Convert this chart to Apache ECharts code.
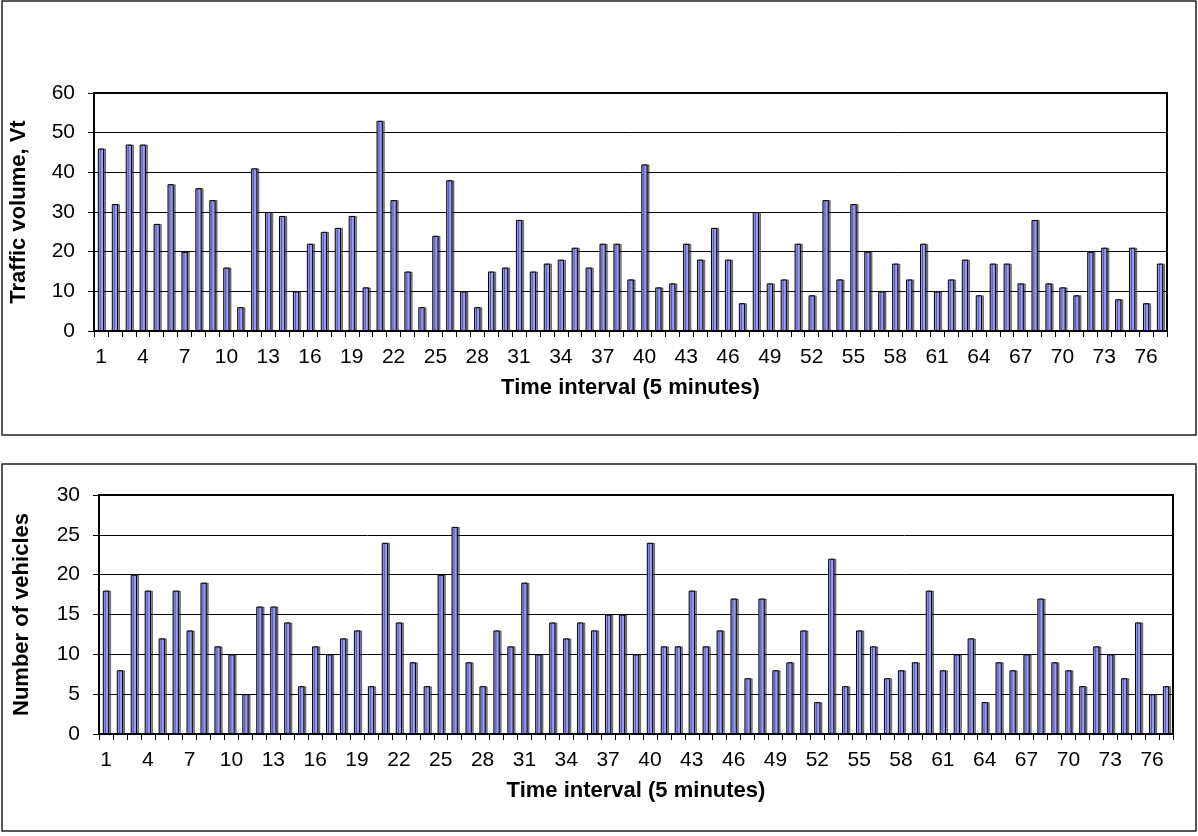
<!DOCTYPE html>
<html>
<head>
<meta charset="utf-8">
<script src="https://cdn.jsdelivr.net/npm/echarts@6/dist/echarts.min.js"></script>
<style>
html,body{margin:0;padding:0;background:#fff;}
#chart{width:1198px;height:836px;}
</style>
</head>
<body>
<div id="chart"></div>
<script>
// ---- Data ----
const categories = Array.from({length: 77}, (_, i) => String(i + 1));
const trafficVolume = [46,32,47,47,27,37,20,36,33,16,6,41,30,29,10,22,25,26,29,11,
  53,33,15,6,24,38,10,6,15,16,28,15,17,18,21,16,22,22,13,42,
  11,12,22,18,26,18,7,30,12,13,22,9,33,13,32,20,10,17,13,22,
  10,13,18,9,17,17,12,28,12,11,9,20,21,8,21,7,17];
const vehicleCount = [18,8,20,18,12,18,13,19,11,10,5,16,16,14,6,11,10,12,13,6,
  24,14,9,6,20,26,9,6,13,11,19,10,14,12,14,13,15,15,10,24,
  11,11,18,11,13,17,7,17,8,9,13,4,22,6,13,11,7,8,9,18,
  8,10,12,4,9,8,10,17,9,8,6,11,10,7,14,5,6];
const topYTitle = 'Traffic volume, Vt';
const bottomYTitle = 'Number of vehicles';
const xTitle = 'Time interval (5 minutes)';

const chart = echarts.init(document.getElementById('chart'), null, {renderer: 'canvas'});
const FONT = 'Liberation Sans, Arial, sans-serif';
const TICK_FS = 21;
const TITLE_FS = 22;

function xAxis(gridIndex, labelMargin, nameGap) {
  return {
    type: 'category', gridIndex, data: categories,
    boundaryGap: true,
    axisLine: {show: true, lineStyle: {color: '#000', width: 2}},
    axisTick: {show: true, interval: 0, alignWithLabel: false, length: 6, lineStyle: {color: '#000', width: 1}},
    axisLabel: {interval: 2, color: '#000', fontSize: TICK_FS, fontFamily: FONT, margin: labelMargin},
    name: xTitle, nameLocation: 'middle', nameGap,
    nameTextStyle: {color: '#000', fontSize: TITLE_FS, fontWeight: 'bold', fontFamily: FONT},
    splitLine: {show: false}
  };
}
function yAxis(gridIndex, max, interval, name, labelMargin, nameGap) {
  return {
    type: 'value', gridIndex, min: 0, max, interval,
    axisLine: {show: true, lineStyle: {color: '#000', width: 2}},
    axisTick: {show: true, length: 6, lineStyle: {color: '#000', width: 1}},
    axisLabel: {color: '#000', fontSize: TICK_FS, fontFamily: FONT, margin: labelMargin},
    splitLine: {show: true, lineStyle: {color: '#000', width: 1}},
    name, nameLocation: 'middle', nameRotate: 90, nameGap,
    nameTextStyle: {color: '#000', fontSize: TITLE_FS, fontWeight: 'bold', fontFamily: FONT}
  };
}
const barStyle = {
  color: '#9999FF', borderColor: '#000', borderWidth: 1,
  shadowColor: 'rgba(0,0,0,0.45)', shadowOffsetX: 2, shadowOffsetY: 0, shadowBlur: 0
};

chart.setOption({
  backgroundColor: '#fff',
  animation: false,
  graphic: [
    {type: 'rect', shape: {x: 2, y: 1, width: 1194, height: 434}, style: {fill: 'none', stroke: '#222', lineWidth: 1.5}, silent: true, z: -10},
    {type: 'rect', shape: {x: 2, y: 464, width: 1194, height: 367}, style: {fill: 'none', stroke: '#222', lineWidth: 1.5}, silent: true, z: -10}
  ],
  grid: [
    {left: 93, top: 93, width: 1074, height: 238, show: true, borderColor: '#000', borderWidth: 2, backgroundColor: 'transparent', containLabel: false},
    {left: 99, top: 495, width: 1074, height: 239, show: true, borderColor: '#000', borderWidth: 2, backgroundColor: 'transparent', containLabel: false}
  ],
  xAxis: [xAxis(0, 16, 46), xAxis(1, 16, 46)],
  yAxis: [yAxis(0, 60, 10, topYTitle, 19, 64), yAxis(1, 30, 5, bottomYTitle, 19, 66)],
  series: [
    {type: 'bar', xAxisIndex: 0, yAxisIndex: 0, data: trafficVolume, barWidth: '45%', itemStyle: barStyle},
    {type: 'bar', xAxisIndex: 1, yAxisIndex: 1, data: vehicleCount, barWidth: '45%', itemStyle: barStyle}
  ]
});
</script>
</body>
</html>
